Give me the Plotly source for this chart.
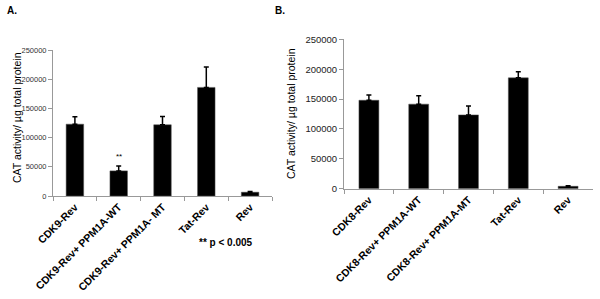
import plotly.graph_objects as go

cats_a = ["CDK9-Rev", "CDK9-Rev+ PPM1A-WT", "CDK9-Rev+ PPM1A- MT", "Tat-Rev", "Rev"]
vals_a = [123000, 43000, 122000, 186000, 6500]
err_a = [12500, 8500, 14000, 35000, 1000]

cats_b = ["CDK8-Rev", "CDK8-Rev+ PPM1A-WT", "CDK8-Rev+ PPM1A-MT", "Tat-Rev", "Rev"]
vals_b = [148000, 141500, 123500, 185500, 4000]
err_b = [9000, 14000, 15000, 10000, 800]

yticks = [0, 50000, 100000, 150000, 200000, 250000]
ytitle = "CAT activity/ µg total protein"

W, H = 600, 299
def px(x): return x / W
def py(y): return 1 - y / H

fig = go.Figure()
fig.add_trace(go.Bar(x=cats_a, y=vals_a, xaxis="x", yaxis="y",
                     marker=dict(color="black", line=dict(color="#555", width=0.5)),
                     error_y=dict(type="data", symmetric=False, array=err_a,
                                  arrayminus=[0]*5, color="black", thickness=1.5, width=2.5)))
fig.add_trace(go.Bar(x=cats_b, y=vals_b, xaxis="x2", yaxis="y2",
                     marker=dict(color="black", line=dict(color="#555", width=0.5)),
                     error_y=dict(type="data", symmetric=False, array=err_b,
                                  arrayminus=[0]*5, color="black", thickness=1.5, width=2.5)))

axis_common = dict(showgrid=False, zeroline=False, showline=True, linecolor="#999",
                   linewidth=1, ticks="outside", ticklen=4, tickcolor="#999", automargin=False)

fig.update_layout(
    width=W, height=H, margin=dict(l=0, r=0, t=0, b=0),
    paper_bgcolor="white", plot_bgcolor="white", showlegend=False, bargap=0.6,
    font=dict(family="Liberation Sans, Arial", color="#222"),
    xaxis=dict(domain=[px(53), px(272)], anchor="y", tickangle=-45, tickson="boundaries",
               tickvals=cats_a, ticktext=["<b>%s</b>" % c for c in cats_a],
               tickfont=dict(size=10.5, family="Liberation Sans, Arial", color="black"),
               **axis_common),
    yaxis=dict(domain=[py(196), py(50)], anchor="x", range=[0, 250000], tickvals=yticks,
               tickformat="d", tickfont=dict(size=7.5, color="#333"), **axis_common),
    xaxis2=dict(domain=[px(344), px(593)], anchor="y2", tickangle=-45, tickson="boundaries",
                tickvals=cats_b, ticktext=["<b>%s</b>" % c for c in cats_b],
                tickfont=dict(size=10.5, family="Liberation Sans, Arial", color="black"),
                **axis_common),
    yaxis2=dict(domain=[py(188.7), py(39.3)], anchor="x2", range=[0, 250000], tickvals=yticks,
                tickformat="d", tickfont=dict(size=9.5, color="#222"), **axis_common),
)

ann = [
    dict(text="<b>A.</b>", x=px(5), y=py(11), xanchor="left", yanchor="middle", font=dict(size=10, color="black")),
    dict(text="<b>B.</b>", x=px(273), y=py(11), xanchor="left", yanchor="middle", font=dict(size=10, color="black")),
    dict(text=ytitle, x=px(9), y=py(118), textangle=-90, font=dict(size=10.5, color="black")),
    dict(text=ytitle, x=px(291), y=py(114), textangle=-90, font=dict(size=10.5, color="black")),
    dict(text="**", x=cats_a[1], y=vals_a[1] + err_a[1], xref="x", yref="y", yanchor="bottom",
         yshift=3, font=dict(size=8, color="black")),
    dict(text="<b>** p < 0.005</b>", x=px(226), y=py(250), font=dict(size=10, color="black")),
]
for a in ann:
    a.setdefault("xref", "paper")
    a.setdefault("yref", "paper")
    a["showarrow"] = False
fig.update_layout(annotations=ann)

fig.write_html("out.html", config={"displayModeBar": False},
               post_script="document.body.style.margin='0';document.body.style.overflow='hidden';")
